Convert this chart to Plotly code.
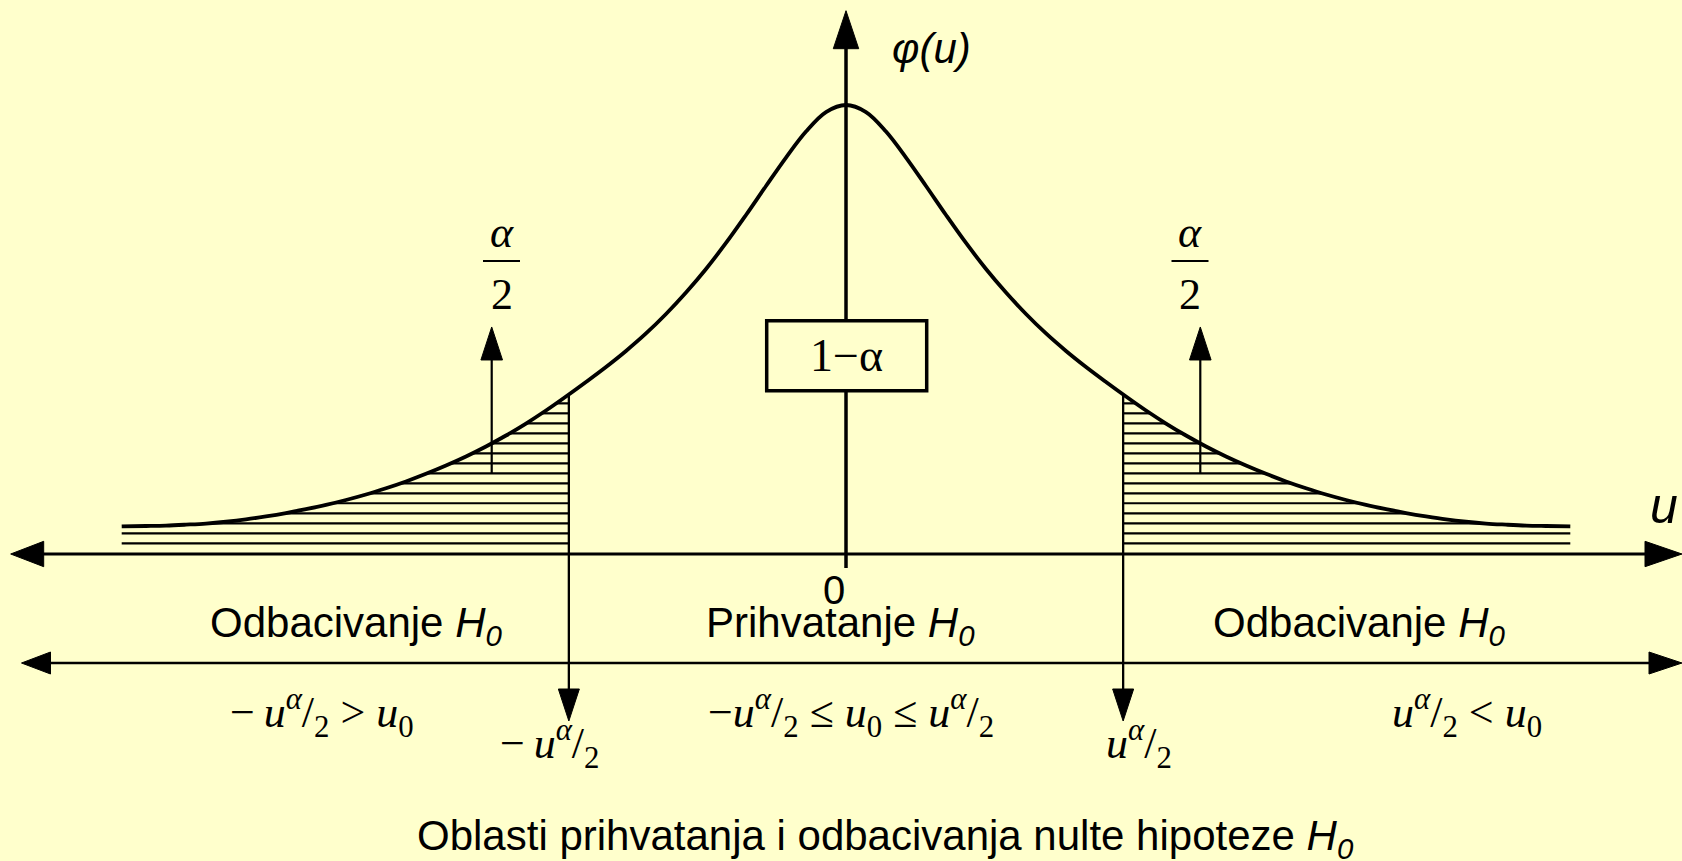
import numpy as np
import plotly.graph_objects as go

# ---------------------------------------------------------------- data
# right half of the density curve phi(u); the left half is its mirror image
U_HALF = [0.00, 0.14, 0.28, 0.42, 0.56, 0.70, 0.84, 0.98, 1.12, 1.26,
          1.40, 1.54, 1.68, 1.82, 1.96, 2.10, 2.24, 2.38, 2.52, 2.66,
          2.80, 2.94, 3.08, 3.22, 3.36, 3.50, 3.64, 3.78, 3.92, 4.06,
          4.20, 4.34, 4.48, 4.62, 4.76, 4.90, 5.07]
PHI_HALF = [0.4009, 0.3946, 0.3772, 0.3540, 0.3286, 0.3027, 0.2777, 0.2545, 0.2335, 0.2143,
            0.1969, 0.1813, 0.1670, 0.1536, 0.1406, 0.1281, 0.1165, 0.1058, 0.0960, 0.0871,
            0.0790, 0.0716, 0.0648, 0.0587, 0.0531, 0.0482, 0.0438, 0.0400, 0.0366, 0.0336,
            0.0309, 0.0288, 0.0272, 0.0262, 0.0254, 0.0250, 0.0246]

U_CRIT = 1.94          # critical value u_{alpha/2}
U_ALPHA_ARROW = 2.48   # where the alpha/2 pointers stand
PHI_ALPHA_TIP = 0.2027 # top of the alpha/2 pointers

# heights of the hatching lines in the two rejection tails
HATCH_LEVELS = [0.0095, 0.0185, 0.0274, 0.0363, 0.0453, 0.0542, 0.0631, 0.0720,
                0.0810, 0.0899, 0.0988, 0.1077, 0.1167, 0.1256, 0.1345]
HATCH_ARROW_LEVEL = 7  # hatch line on which the alpha/2 pointers start

REGION_LABELS = ["Odbacivanje <i>H<sub>0</sub></i>",
                 "Prihvatanje <i>H<sub>0</sub></i>",
                 "Odbacivanje <i>H<sub>0</sub></i>"]
CONDITION_LABELS = ["−\u2009<i>u</i><sup><i>α</i></sup>/<sub>2</sub> &gt; <i>u</i><sub>0</sub>",
                    "−<i>u</i><sup><i>α</i></sup>/<sub>2</sub> ≤ <i>u</i><sub>0</sub> ≤ <i>u</i><sup><i>α</i></sup>/<sub>2</sub>",
                    "<i>u</i><sup><i>α</i></sup>/<sub>2</sub> &lt; <i>u</i><sub>0</sub>"]
CRIT_LABELS = ["−\u2009<i>u</i><sup><i>α</i></sup>/<sub>2</sub>",
               "<i>u</i><sup><i>α</i></sup>/<sub>2</sub>"]
CAPTION = "Oblasti prihvatanja i odbacivanja nulte hipoteze <i>H<sub>0</sub></i>"

# ---------------------------------------------------------------- layout frame
W, H = 1682, 861
BG = "#FFFFCC"
INK = "black"
SANS = "Liberation Sans, Arial, sans-serif"
SERIF = "Liberation Serif, Times New Roman, serif"

X0, SX = 846.0, 142.86   # page x of u=0, pixels per unit of u
Y0, SY = 554.0, 1120.0   # page y of phi=0, pixels per unit of phi


def dx(px):
    return (px - X0) / SX


def dy(py):
    return (Y0 - py) / SY


def px_x(u):
    return X0 + u * SX


def px_y(p):
    return Y0 - p * SY


u_half = np.array(U_HALF)
phi_half = np.array(PHI_HALF)
u_curve = np.concatenate([-u_half[::-1], u_half[1:]])
phi_curve = np.concatenate([phi_half[::-1], phi_half[1:]])


def phi_at(u):
    return float(np.interp(abs(u), u_half, phi_half))


def tail_crossing(level):
    # |u| where the tail of the curve comes down to the given height
    if level <= phi_half[-1]:
        return u_half[-1]
    return float(np.interp(level, phi_half[::-1], u_half[::-1]))


# hatching of the two tails
hx, hy = [], []
for lv in HATCH_LEVELS:
    uc = tail_crossing(lv)
    if uc <= U_CRIT:
        continue
    hx += [-uc, -U_CRIT, None, U_CRIT, uc, None]
    hy += [lv, lv, None, lv, lv, None]

fig = go.Figure()
fig.add_trace(go.Scatter(x=hx, y=hy, mode="lines",
                         line=dict(color=INK, width=2.2), hoverinfo="skip"))
fig.add_trace(go.Scatter(x=u_curve, y=phi_curve, mode="lines",
                         line=dict(color=INK, width=3.8, shape="spline", smoothing=1.0),
                         hoverinfo="skip"))

shapes = []


def seg(x0, y0, x1, y1, width):
    shapes.append(dict(type="line", xref="x", yref="y",
                       x0=dx(x0), y0=dy(y0), x1=dx(x1), y1=dy(y1),
                       line=dict(color=INK, width=width), layer="above"))


def head(tx, ty, direction, length, half):
    # filled arrow head with its tip at page point (tx, ty)
    vx, vy = {"left": (1, 0), "right": (-1, 0), "up": (0, 1), "down": (0, -1)}[direction]
    bx, by = tx + vx * length, ty + vy * length
    px_, py_ = -vy * half, vx * half
    pts = [(tx, ty), (bx + px_, by + py_), (bx - px_, by - py_)]
    path = "M " + " L ".join(f"{dx(a):.5f},{dy(b):.5f}" for a, b in pts) + " Z"
    shapes.append(dict(type="path", xref="x", yref="y", path=path,
                       fillcolor=INK, line=dict(color=INK, width=1), layer="above"))


# horizontal u axis with arrows at both ends
seg(40, Y0, 1648, Y0, 3)
head(10.7, Y0, "left", 33, 12.7)
head(1682, Y0, "right", 37, 12.7)

# vertical phi axis
seg(X0, 568, X0, 45, 3.5)
head(X0, 10.7, "up", 38, 12.7)

# line separating the regions
seg(45, 663, 1652, 663, 2.5)
head(21.5, 663, "left", 29, 11)
head(1682, 663, "right", 33, 11)

# critical-value lines
for s in (-1, 1):
    xc = px_x(s * U_CRIT)
    seg(xc, px_y(phi_at(U_CRIT)), xc, 695, 2.3)
    head(xc, 721, "down", 32, 10.5)

# alpha/2 pointers
for s in (-1, 1):
    xa = px_x(s * U_ALPHA_ARROW)
    seg(xa, px_y(HATCH_LEVELS[HATCH_ARROW_LEVEL]), xa, 355, 2.2)
    head(xa, px_y(PHI_ALPHA_TIP), "up", 33, 10.8)

# 1-alpha box on the phi axis
shapes.append(dict(type="rect", xref="x", yref="y",
                   x0=dx(766.7), x1=dx(926.7), y0=dy(390.7), y1=dy(320.7),
                   fillcolor=BG, line=dict(color=INK, width=3.5), layer="above"))

# fraction bars of alpha/2
for cx in (501.5, 1190):
    seg(cx - 18.5, 261, cx + 18.5, 261, 2)

annotations = []


def label(text, cx, cy, size, family, xanchor="center"):
    annotations.append(dict(text=text, x=dx(cx), y=dy(cy), xref="x", yref="y",
                            showarrow=False, xanchor=xanchor, yanchor="middle",
                            font=dict(family=family, size=size, color=INK)))


label("<i>φ(u)</i>", 931, 48, 42, SANS)
label("<i>u</i>", 1664, 506, 50, SANS)
label("0", 834, 590, 40, SANS)
label("1−α", 846, 355, 46, SERIF)
for cx in (501.5, 1190):
    label("<i>α</i>", cx, 232, 44, SERIF)
    label("2", cx, 294, 44, SERIF)

for text, cx in zip(REGION_LABELS, (356, 840, 1359)):
    label(text, cx, 625, 42, SANS)
for text, cx in zip(CONDITION_LABELS, (322, 851, 1467)):
    label(text, cx, 713, 44, SERIF)
for text, cx in zip(CRIT_LABELS, (549, 1139)):
    label(text, cx, 744, 44, SERIF)
label(CAPTION, 885, 838, 42, SANS)

fig.update_layout(
    width=W, height=H,
    margin=dict(l=0, r=0, t=0, b=0, pad=0),
    paper_bgcolor=BG, plot_bgcolor=BG,
    showlegend=False,
    xaxis=dict(visible=False, range=[dx(0), dx(W)], fixedrange=True),
    yaxis=dict(visible=False, range=[dy(H), dy(0)], fixedrange=True),
    shapes=shapes, annotations=annotations,
)

fig.write_html("out.html", config={"displayModeBar": False})
